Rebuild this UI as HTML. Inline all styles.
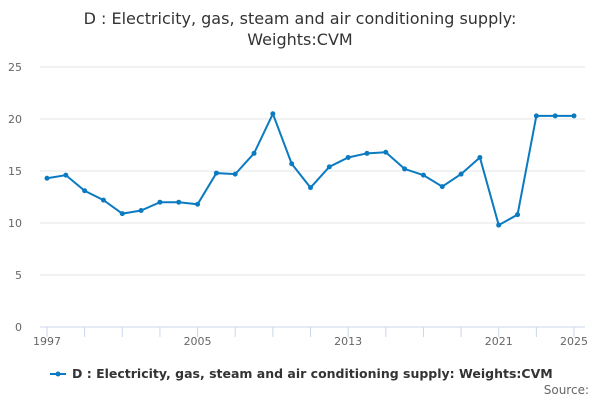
<!DOCTYPE html>
<html><head><meta charset="utf-8"><style>
body{margin:0;background:#fff;font-family:"Liberation Sans","DejaVu Sans",sans-serif}
svg text{font-family:"DejaVu Sans","Liberation Sans",sans-serif}
</style></head><body>
<svg width="600" height="400" id="c">
<text x="300" y="24" text-anchor="middle" font-size="16" fill="#333">D : Electricity, gas, steam and air conditioning supply:</text>
<text x="300" y="45" text-anchor="middle" font-size="16" fill="#333">Weights:CVM</text>
<g id="grid"></g><g id="xa"></g><g id="ser"></g>
<g>
<line x1="50" y1="374" x2="66" y2="374" stroke="#0b7bc1" stroke-width="2"/>
<circle cx="58" cy="374" r="2.5" fill="#0b7bc1"/>
<text x="72" y="378" font-size="12.5" font-weight="bold" fill="#333">D : Electricity, gas, steam and air conditioning supply: Weights:CVM</text>
</g>
<text x="589" y="394" text-anchor="end" font-size="12" fill="#666">Source:</text>
</svg>
<script>
const years=[1997,1998,1999,2000,2001,2002,2003,2004,2005,2006,2007,2008,2009,2010,2011,2012,2013,2014,2015,2016,2017,2018,2019,2020,2021,2022,2023,2024,2025];
const values=[14.3,14.6,13.1,12.2,10.9,11.2,12.0,12.0,11.8,14.8,14.7,16.7,20.5,15.7,13.4,15.4,16.3,16.7,16.8,15.2,14.6,13.5,14.7,16.3,9.8,10.8,20.3,20.3,20.3];
const yTicks=[0,5,10,15,20,25];
const xLabels=[1997,2005,2013,2021,2025];
const NS="http://www.w3.org/2000/svg";
const X=y=>47+(y-1997)*(574-47)/28, Y=v=>327-v*260/25;
function mk(t,a,p){const e=document.createElementNS(NS,t);for(const k in a)e.setAttribute(k,a[k]);p.appendChild(e);return e;}
const g=document.getElementById('grid');
yTicks.forEach(v=>{
 const l=mk('line',{x1:40,x2:585,y1:Y(v),y2:Y(v),stroke:v?'#e6e6e6':'#ccd6eb'},g);
 
 
 const t=mk('text',{x:22,y:Y(v)+4,'font-size':11,fill:'#666','text-anchor':'end'},g);t.textContent=v;
 
 
});
const xa=document.getElementById('xa');
for(let y=1997;y<=2025;y+=2){const l=mk('line',{x1:X(y),x2:X(y),y1:327,y2:337,stroke:'#ccd6eb'},xa);
 
 }
xLabels.forEach(y=>{const t=mk('text',{x:X(y),y:345,'font-size':11,fill:'#666','text-anchor':'middle'},xa);t.textContent=y;
 
 });
const s=document.getElementById('ser');
const p=mk('polyline',{points:years.map((y,i)=>X(y)+','+Y(values[i])).join(' '),fill:'none',stroke:'#0b7bc1','stroke-width':2},s);


years.forEach((y,i)=>{const c=mk('circle',{cx:X(y),cy:Y(values[i]),r:2.5,fill:'#0b7bc1'},s);
 
 });
</script>
</body></html>
